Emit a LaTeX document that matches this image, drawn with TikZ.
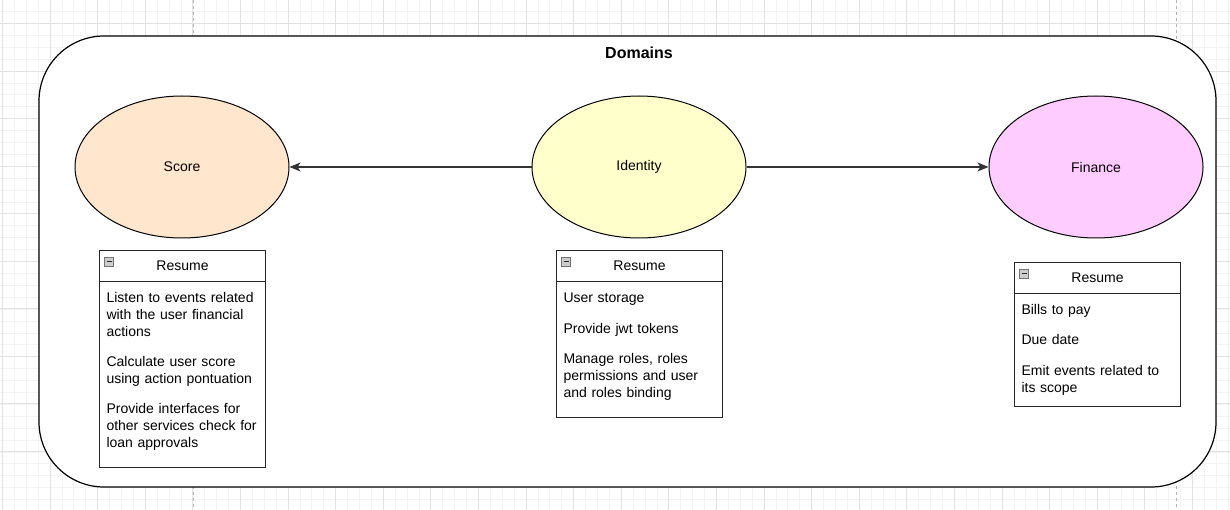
\documentclass[tikz,border=0pt]{standalone}
\usepackage{fontspec}
\setmainfont{Liberation Sans}
\usetikzlibrary{shapes.geometric,arrows.meta}

\definecolor{scorefill}{HTML}{FFE6CC}
\definecolor{identityfill}{HTML}{FFFFCC}
\definecolor{financefill}{HTML}{FFCCFF}
\definecolor{gridminor}{HTML}{F3F3F3}
\definecolor{gridmajor}{HTML}{E2E2E2}

\newcommand{\txt}{\fontsize{14}{17}\selectfont}

\begin{document}
\begin{tikzpicture}[x=1pt, y=-1pt, >={Stealth[length=11pt, width=9pt, inset=3pt]}, line width=1pt]
        \tikzstyle{dom}=[ellipse, draw=black, minimum width=214pt, minimum height=142pt, inner sep=0pt, font=\txt]
        \tikzstyle{hdr}=[draw=black!85, minimum width=166pt, minimum height=31pt, inner sep=0pt, anchor=north west, font=\txt]
        \tikzstyle{items}=[text width=152pt, align=left, inner sep=0pt, anchor=north west, font=\txt]
        \tikzstyle{minus}=[draw=black!55, fill=black!20, line width=0.7pt, minimum size=9pt, inner sep=0pt,
            path picture={\draw[black!85, line width=1.4pt] ([xshift=2pt]path picture bounding box.west) -- ([xshift=-2pt]path picture bounding box.east);}]

        \useasboundingbox (0,0) rectangle (1230,510);
        \fill[white] (0,0) rectangle (1230,510);

        % Grid
        \foreach \i in {0,...,103}
            \draw[gridminor, line width=0.8pt] ({2.4+11.9*\i},0) -- ++(0,510);
        \foreach \i in {0,...,43}
            \draw[gridminor, line width=0.8pt] (0,{23.5+11.9*(\i-2)}) -- ++(1230,0);
        \foreach \i in {0,...,25}
            \draw[gridmajor, line width=0.8pt] ({2.4+47.6*\i},0) -- ++(0,510);
        \foreach \i in {0,...,10}
            \draw[gridmajor, line width=0.8pt] (0,{23.5+47.5*(\i-1)}) -- ++(1230,0);
        \draw[black!30, dashed, line width=0.8pt] (193,0) -- (193,510);
        \draw[black!30, dashed, line width=0.8pt] (1176,0) -- (1176,510);

        % Container
        \draw[fill=white, rounded corners=65pt, line width=1.2pt] (39,36) rectangle (1216,487);
        \node[font=\bfseries\fontsize{16}{19}\selectfont] (title) at (639,53) {Domains};

        % Domains
        \node[dom, fill=scorefill] (score) at (182,167) {Score};
        \node[dom, fill=identityfill] (identity) at (639,167) {Identity};
        \node[dom, fill=financefill] (finance) at (1096,167) {Finance};

        \draw[->, black!80, line width=1.3pt] (identity) -- (score);
        \draw[->, black!80, line width=1.3pt] (identity) -- (finance);

        % Score resume
        \node[hdr] (scorehdr) at (99,250) {Resume};
        \draw[draw=black!85] (scorehdr.south west) rectangle ++(166,185);
        \node[minus] (scoreminus) at ([xshift=10pt, yshift=-11.5pt]scorehdr.north west) {};
        \node[items] (scoreitems) at ([xshift=7pt, yshift=-10pt]scorehdr.south west)
            {Listen to events related\\with the user financial\\actions\\[13pt]
             Calculate user score\\using action pontuation\\[13pt]
             Provide interfaces for\\other services check for\\loan approvals};

        % Identity resume
        \node[hdr] (identityhdr) at (556,250) {Resume};
        \draw[draw=black!85] (identityhdr.south west) rectangle ++(166,135);
        \node[minus] (identityminus) at ([xshift=10pt, yshift=-11.5pt]identityhdr.north west) {};
        \node[items] (identityitems) at ([xshift=7pt, yshift=-10pt]identityhdr.south west)
            {User storage\\[14pt]
             Provide jwt tokens\\[13pt]
             Manage roles, roles\\permissions and user\\and roles binding};

        % Finance resume
        \node[hdr] (financehdr) at (1014,262) {Resume};
        \draw[draw=black!85] (financehdr.south west) rectangle ++(166,112);
        \node[minus] (financeminus) at ([xshift=10pt, yshift=-11.5pt]financehdr.north west) {};
        \node[items] (financeitems) at ([xshift=7pt, yshift=-10pt]financehdr.south west)
            {Bills to pay\\[13pt]
             Due date\\[14pt]
             Emit events related to\\its scope};
        \end{tikzpicture}
\end{document}
